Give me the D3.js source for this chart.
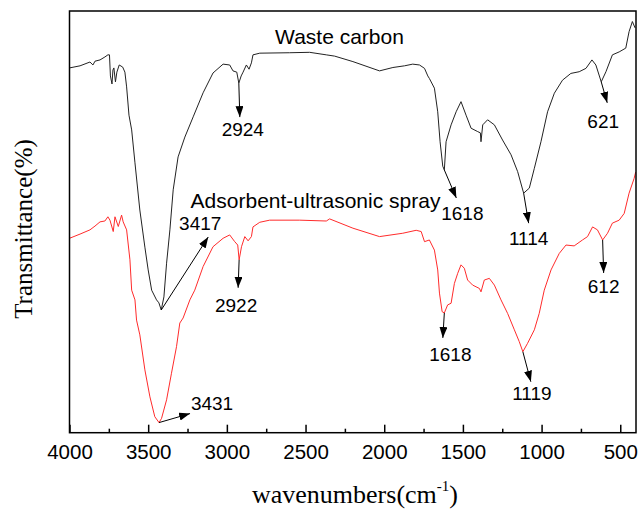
<!DOCTYPE html>
<html lang="en">
<head>
<meta charset="UTF-8">
<title>FTIR spectra</title>
<script src="https://d3js.org/d3.v7.min.js"></script>
<style>
  body { margin: 0; background: #fff; }
  svg { display: block; }
</style>
</head>
<body>
<div id="chart"></div>
<script>
// wavenumber (cm-1), transmittance (arbitrary %, no scale shown)
const wasteCarbon = [
  [4000,86.5],[3933,87.0],[3870,87.9],[3851,87.2],[3838,88.1],[3806,88.4],[3775,89.1],[3756,89.6],
  [3746,89.6],[3740,84.6],[3730,82.7],[3724,86.0],[3718,86.5],[3708,83.2],[3699,85.5],[3684,87.2],
  [3662,86.7],[3648,85.5],[3637,82.0],[3622,75.3],[3605,71.8],[3584,64.0],[3553,52.8],[3521,44.0],
  [3500,38.6],[3478,33.8],[3447,31.5],[3432,30.8],[3417,29.1],[3400,32.2],[3383,40.2],[3362,48.1],
  [3341,57.6],[3310,65.4],[3267,70.1],[3214,74.9],[3151,80.6],[3088,85.3],[3024,87.4],[2982,87.2],
  [2961,85.8],[2937,85.5],[2924,82.9],[2909,84.6],[2897,85.5],[2876,87.2],[2859,86.2],[2844,87.7],
  [2834,89.6],[2791,90.0],[2601,90.1],[2474,90.2],[2368,89.6],[2315,89.3],[2199,88.0],[2030,85.8],
  [1945,86.6],[1871,87.0],[1819,87.4],[1776,87.2],[1744,86.4],[1723,84.6],[1713,84.0],[1681,81.7],
  [1660,76.1],[1645,69.0],[1628,63.2],[1618,62.3],[1607,69.0],[1575,73.0],[1543,76.1],[1512,78.5],
  [1480,75.3],[1448,72.2],[1406,71.4],[1389,71.1],[1385,69.0],[1374,73.0],[1343,74.2],[1300,73.0],
  [1248,69.4],[1194,65.9],[1152,61.9],[1114,56.8],[1078,58.0],[1046,62.7],[1004,69.0],[962,76.1],
  [919,80.5],[867,83.6],[814,85.2],[761,85.6],[718,86.4],[680,88.4],[655,87.2],[621,83.2],
  [591,85.6],[550,89.6],[507,90.3],[465,91.2],[444,95.1],[423,97.5],[406,96.0]
];

const adsorbentSpray = [
  [4000,46.1],[3933,47.1],[3870,48.1],[3838,49.0],[3806,50.0],[3775,50.2],[3756,51.2],[3743,50.4],
  [3722,47.7],[3711,51.2],[3690,48.9],[3669,51.6],[3659,50.0],[3637,48.1],[3616,41.0],[3605,33.8],
  [3584,31.5],[3574,26.7],[3553,23.2],[3521,14.9],[3489,8.5],[3458,3.8],[3431,2.4],[3415,3.4],
  [3383,7.8],[3352,14.1],[3320,20.4],[3299,26.0],[3278,27.2],[3235,31.5],[3204,33.8],[3151,39.4],
  [3088,44.1],[3024,46.1],[2982,46.9],[2950,45.3],[2931,44.5],[2922,41.0],[2907,44.1],[2886,46.5],
  [2865,45.5],[2844,46.5],[2834,48.8],[2791,49.9],[2728,50.4],[2537,50.4],[2368,50.2],[2347,50.7],
  [2199,48.5],[2030,46.5],[1882,47.3],[1797,48.0],[1765,47.7],[1744,45.3],[1713,45.7],[1681,43.3],
  [1660,38.6],[1649,33.1],[1632,28.7],[1618,28.4],[1597,30.3],[1575,30.7],[1554,35.4],[1533,37.8],
  [1512,39.8],[1491,39.0],[1470,36.2],[1438,35.0],[1395,34.2],[1385,33.4],[1364,36.2],[1332,36.6],
  [1300,35.0],[1258,31.5],[1216,28.3],[1173,24.4],[1142,21.6],[1119,19.2],[1089,21.2],[1046,24.4],
  [1015,28.3],[983,33.8],[940,38.6],[888,42.5],[845,44.5],[793,44.3],[740,45.7],[708,46.5],
  [676,48.8],[645,48.1],[612,45.7],[581,47.3],[550,49.7],[507,50.4],[475,52.0],[444,56.8],
  [412,60.3],[402,61.8]
];

const wastePeaks = [2924, 3417, 1618, 1114, 621];
const sprayPeaks = [3431, 2922, 1618, 1119, 612];
const majorTicks = [4000, 3500, 3000, 2500, 2000, 1500, 1000, 500];
const minorTicks = [3750, 3250, 2750, 2250, 1750, 1250, 750];

// arrow end offset and label offset (px) for each peak, same order as above
const wasteLayout = [[1,34,4,53],[47,-73,39,-80],[12,28,18,50],[5,30,5,52],[6,21,2,46]];
const sprayLayout = [[31,-9,53,-13],[-1,28,-3,52],[-1.5,25,6,48],[8,30,9,48],[1,33,1,53]];

const W = 642, H = 512;
const pLeft = 69.5, pRight = 636, pTop = 11, pBottom = 432.7;

const svg = d3.select("#chart").append("svg")
  .attr("width", W).attr("height", H);

const x = d3.scaleLinear().domain([4000, 400]).range([pLeft, pRight]);
const y = d3.scaleLinear().domain([0, 100]).range([pBottom, pTop]);

const defs = svg.append("defs");
defs.append("clipPath").attr("id", "plot")
  .append("rect").attr("x", pLeft).attr("y", pTop)
  .attr("width", pRight - pLeft).attr("height", pBottom - pTop);
defs.append("marker")
  .attr("id", "arrow")
  .attr("markerUnits", "userSpaceOnUse")
  .attr("viewBox", "0 0 11 8")
  .attr("markerWidth", 11).attr("markerHeight", 8)
  .attr("refX", 11).attr("refY", 4)
  .attr("orient", "auto")
  .append("path").attr("d", "M0,0 L11,4 L0,8 Z").attr("fill", "#000");

const line = d3.line().x(d => x(d[0])).y(d => y(d[1]));

svg.append("path").datum(wasteCarbon)
  .attr("clip-path", "url(#plot)")
  .attr("fill", "none").attr("stroke", "#222").attr("stroke-width", 1)
  .attr("d", line);

svg.append("path").datum(adsorbentSpray)
  .attr("clip-path", "url(#plot)")
  .attr("fill", "none").attr("stroke", "#ff2b2b").attr("stroke-width", 1)
  .attr("d", line);

// axis ticks pointing inward
const xAxis = svg.append("g")
  .attr("transform", "translate(0," + pBottom + ")")
  .call(d3.axisBottom(x).tickValues(majorTicks).tickSize(-8).tickFormat(d3.format("d")));
xAxis.select(".domain").remove();
xAxis.selectAll("line").attr("stroke", "#000").attr("stroke-width", 1.5);
xAxis.selectAll("text")
  .attr("y", 26).attr("dy", null)
  .attr("fill", "#000")
  .style("font-family", "'Liberation Sans', Arial, sans-serif")
  .style("font-size", "20.5px");

const xMinor = svg.append("g")
  .attr("transform", "translate(0," + pBottom + ")")
  .call(d3.axisBottom(x).tickValues(minorTicks).tickSize(-4).tickFormat(""));
xMinor.select(".domain").remove();
xMinor.selectAll("line").attr("stroke", "#000").attr("stroke-width", 1.5);

// frame
svg.append("rect")
  .attr("x", pLeft).attr("y", pTop)
  .attr("width", pRight - pLeft).attr("height", pBottom - pTop)
  .attr("fill", "none").attr("stroke", "#000").attr("stroke-width", 1.5);

// peak annotations
function annotate(series, peaks, layout) {
  peaks.forEach((p, i) => {
    const pt = series.find(d => d[0] === p);
    const x0 = x(pt[0]), y0 = y(pt[1]);
    const o = layout[i];
    svg.append("line")
      .attr("x1", x0).attr("y1", y0)
      .attr("x2", x0 + o[0]).attr("y2", y0 + o[1])
      .attr("stroke", "#000").attr("stroke-width", 1)
      .attr("marker-end", "url(#arrow)");
    svg.append("text")
      .attr("x", x0 + o[2]).attr("y", y0 + o[3])
      .attr("text-anchor", "middle")
      .style("font-family", "'Liberation Sans', Arial, sans-serif")
      .style("font-size", "19px")
      .text(p);
  });
}
annotate(wasteCarbon, wastePeaks, wasteLayout);
annotate(adsorbentSpray, sprayPeaks, sprayLayout);

// series names
svg.append("text")
  .attr("x", 339.5).attr("y", 43.5)
  .attr("text-anchor", "middle")
  .style("font-family", "'Liberation Sans', Arial, sans-serif")
  .style("font-size", "21px")
  .text("Waste carbon");

svg.append("text")
  .attr("x", 315.5).attr("y", 207.5)
  .attr("text-anchor", "middle")
  .style("font-family", "'Liberation Sans', Arial, sans-serif")
  .style("font-size", "21px")
  .text("Adsorbent-ultrasonic spray");

// axis titles
svg.append("text")
  .attr("transform", "translate(32,229) rotate(-90)")
  .attr("text-anchor", "middle")
  .style("font-family", "'Liberation Serif', 'Times New Roman', serif")
  .style("font-size", "25px")
  .text("Transmittance(%)");

const xt = svg.append("text")
  .attr("x", 252).attr("y", 503)
  .style("font-family", "'Liberation Serif', 'Times New Roman', serif")
  .style("font-size", "26px");
xt.append("tspan").text("wavenumbers(cm");
xt.append("tspan").attr("dy", -12).style("font-size", "15px").text("-1");
xt.append("tspan").attr("dy", 12).text(")");
</script>
</body>
</html>
